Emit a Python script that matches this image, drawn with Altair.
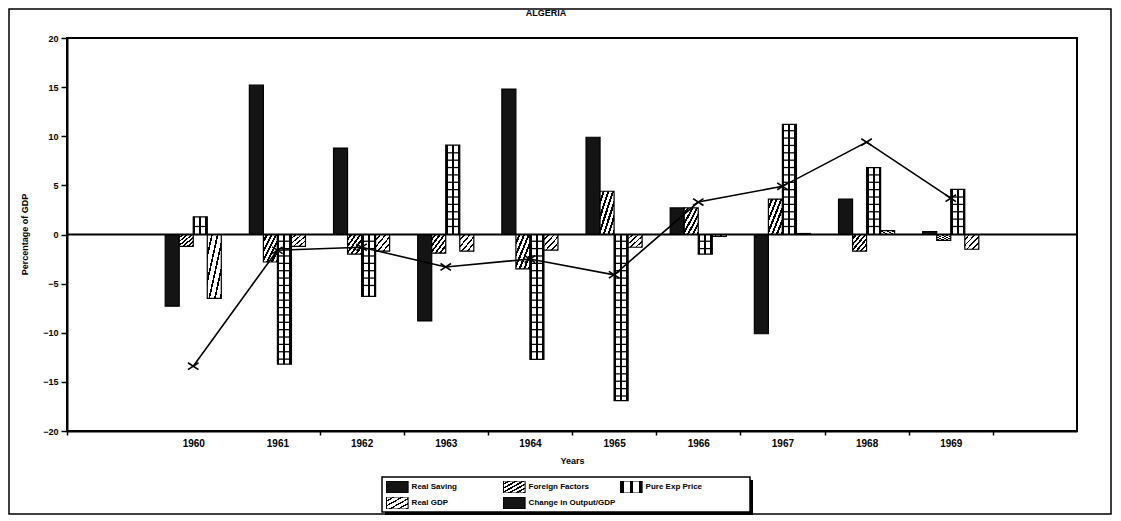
import altair as alt
import pandas as pd

# ---------------- data ----------------
years = [1960, 1961, 1962, 1963, 1964, 1965, 1966, 1967, 1968, 1969]
axis_years = [1959, 1960, 1961, 1962, 1963, 1964, 1965, 1966, 1967, 1968, 1969, 1970]
series_names = ["Real Saving", "Foreign Factors", "Pure Exp Price", "Real GDP",
                "Change in Output/GDP"]

real_saving = [-7.3, 15.2, 8.8, -8.8, 14.8, 9.9, 2.7, -10.1, 3.6, 0.3]
foreign_factors = [-1.2, -2.8, -2.0, -1.9, -3.5, 4.4, 2.7, 3.6, -1.7, -0.6]
pure_exp_price = [1.8, -13.2, -6.3, 9.1, -12.7, -16.9, -2.0, 11.2, 6.8, 4.6]
real_gdp = [-6.5, -1.2, -1.7, -1.7, -1.6, -1.3, -0.2, 0.1, 0.4, -1.5]
change_output = [-13.4, -1.6, -1.3, -3.3, -2.5, -4.1, 3.3, 4.9, 9.4, 3.7]

y_ticks = [-20, -15, -10, -5, 0, 5, 10, 15, 20]
chart_title = "ALGERIA"

# ---------------- tables ----------------
rows = []
for name, vals in zip(series_names[:4], [real_saving, foreign_factors, pure_exp_price, real_gdp]):
    for yr, v in zip(years, vals):
        rows.append({"year": yr, "series": name, "value": v})
bars_df = pd.DataFrame(rows)

line_df = pd.DataFrame({"year": years, "series": series_names[4], "value": change_output})

# ladder rungs of the "Pure Exp Price" bars, derived from their values
rung_step = 0.75
rung_rows = []
for yr, v in zip(years, pure_exp_price):
    k = 1
    while k * rung_step < abs(v) - 0.3:
        pos = k * rung_step * (1 if v > 0 else -1)
        rung_rows.append({"year": yr, "series": "Pure Exp Price", "r0": pos, "r1": pos + 0.13})
        k += 1
rung_df = pd.DataFrame(rung_rows)

one_df = pd.DataFrame({"a": [0]})

FONT = "Liberation Sans"


def stripes(x2, y2, n, dark):
    stops = []
    for i in range(n):
        a = i / n
        b = (i + 1 - dark) / n
        c = (i + 1) / n
        stops += [(a, "white"), (b, "white"), (b, "black"), (c, "black")]
    s = ", ".join("{offset: %.4f, color: '%s'}" % (o, col) for o, col in stops)
    return "{gradient: 'linear', x1: 0, y1: 0, x2: %s, y2: %s, stops: [%s]}" % (x2, y2, s)


ladder = ("{gradient: 'linear', x1: 0, y1: 0, x2: 1, y2: 0, stops: ["
          "{offset: 0, color: 'black'}, {offset: 0.14, color: 'black'}, "
          "{offset: 0.14, color: 'white'}, {offset: 0.43, color: 'white'}, "
          "{offset: 0.43, color: 'black'}, {offset: 0.57, color: 'black'}, "
          "{offset: 0.57, color: 'white'}, {offset: 0.86, color: 'white'}, "
          "{offset: 0.86, color: 'black'}, {offset: 1, color: 'black'}]}")

color_range = [
    "#141414",
    {"expr": stripes(1, 1, 6, 0.45)},
    {"expr": ladder},
    {"expr": stripes(1, 1, 5, 0.3)},
    "#141414",
]

x_scale = alt.Scale(domain=axis_years, paddingInner=0, paddingOuter=0)
xoff_scale = alt.Scale(domain=series_names[:4], paddingInner=0, paddingOuter=1)
y_scale = alt.Scale(domain=[-20, 20], nice=False)

x_axis = alt.Axis(
    title="Years",
    labelExpr="datum.value < 1960 || datum.value > 1969 ? '' : datum.label",
    labelAngle=0,
    tickBand="extent",
    tickOpacity={"condition": {"test": "datum.value <= 1960 || datum.value >= 1970", "value": 0},
                 "value": 1},
    tickSize=4,
    tickWidth=1.5,
    labelPadding=3,
    labelFontSize=10,
    labelFontWeight="bold",
    titleFontSize=9,
    titleFontWeight="bold",
    titlePadding=8,
    domainWidth=2,
)

y_axis = alt.Axis(
    title="Percentage of GDP",
    values=y_ticks,
    grid=False,
    tickSize=6,
    tickWidth=1.5,
    labelPadding=3,
    labelFontSize=9,
    labelFontWeight="bold",
    titleFontSize=9,
    titleFontWeight="bold",
    titleX=-43,
    titleY=196,
    titleAlign="center",
    titleBaseline="middle",
    domainWidth=2,
)

legend = alt.Legend(
    title=None,
    orient="none",
    legendX=315,
    legendY=439,
    direction="horizontal",
    columns=3,
    gridAlign="all",
    columnPadding=4,
    rowPadding=4,
    padding=4,
    clipHeight=12,
    symbolType="M-1,-1H2.6V1H-1Z",
    symbolSize=144,
    symbolStrokeColor="black",
    symbolStrokeWidth=1,
    symbolOpacity=1,
    labelFont=FONT,
    labelFontSize=8,
    labelFontWeight="bold",
    labelOffset=12.6,
)

bars = alt.Chart(bars_df).mark_bar(stroke="black", strokeWidth=1.2, opacity=1).encode(
    x=alt.X("year:O", scale=x_scale, axis=x_axis),
    xOffset=alt.XOffset("series:N", scale=xoff_scale),
    y=alt.Y("value:Q", scale=y_scale, axis=y_axis),
    color=alt.Color("series:N", scale=alt.Scale(domain=series_names, range=color_range),
                    legend=legend),
)

rungs = alt.Chart(rung_df).mark_bar(color="black").encode(
    x=alt.X("year:O", scale=x_scale),
    xOffset=alt.XOffset("series:N", scale=xoff_scale),
    y=alt.Y("r0:Q", scale=y_scale),
    y2="r1:Q",
)

zero = alt.Chart(one_df).mark_rule(color="black", strokeWidth=2).encode(y=alt.datum(0))

line = alt.Chart(line_df).mark_line(color="black", strokeWidth=1.6).encode(
    x=alt.X("year:O", scale=x_scale),
    y=alt.Y("value:Q", scale=y_scale),
)

markers = alt.Chart(line_df).mark_point(
    shape="M-1,-0.65L1,0.65M-1,0.65L1,-0.65", size=110, filled=False,
    color="black", strokeWidth=1.6, opacity=1,
).encode(
    x=alt.X("year:O", scale=x_scale),
    y=alt.Y("value:Q", scale=y_scale),
)

# page frame, legend box with its drop shadow, and the chart title
frame = alt.Chart(one_df).mark_rect(fill="transparent", stroke="black", strokeWidth=1.5).encode(
    x=alt.value(-58), x2=alt.value(1044), y=alt.value(-29), y2=alt.value(476)
)
legend_shadow = alt.Chart(one_df).mark_rect(color="black").encode(
    x=alt.value(318), x2=alt.value(686), y=alt.value(442), y2=alt.value(477)
)
legend_box = alt.Chart(one_df).mark_rect(fill="white", stroke="black", strokeWidth=1.5).encode(
    x=alt.value(315), x2=alt.value(683), y=alt.value(439), y2=alt.value(474)
)
title = alt.Chart(one_df).mark_text(
    text=chart_title, font=FONT, fontSize=9, fontWeight="bold", color="black",
    align="center", baseline="middle",
).encode(x=alt.value(479), y=alt.value(-25))

chart = alt.layer(bars, rungs, zero, line, markers, frame, legend_shadow, legend_box, title).properties(
    width=1010,
    height=393,
    padding={"left": 59, "top": 30, "right": 36, "bottom": 84},
    autosize=alt.AutoSizeParams(type="none"),
).configure(
    font=FONT,
    background="white",
).configure_view(
    stroke="black", strokeWidth=2,
).configure_axis(
    labelFont=FONT, titleFont=FONT, labelColor="black", titleColor="black",
    domainColor="black", tickColor="black",
)

chart.save("out.html", embed_options={"renderer": "svg", "actions": False})
